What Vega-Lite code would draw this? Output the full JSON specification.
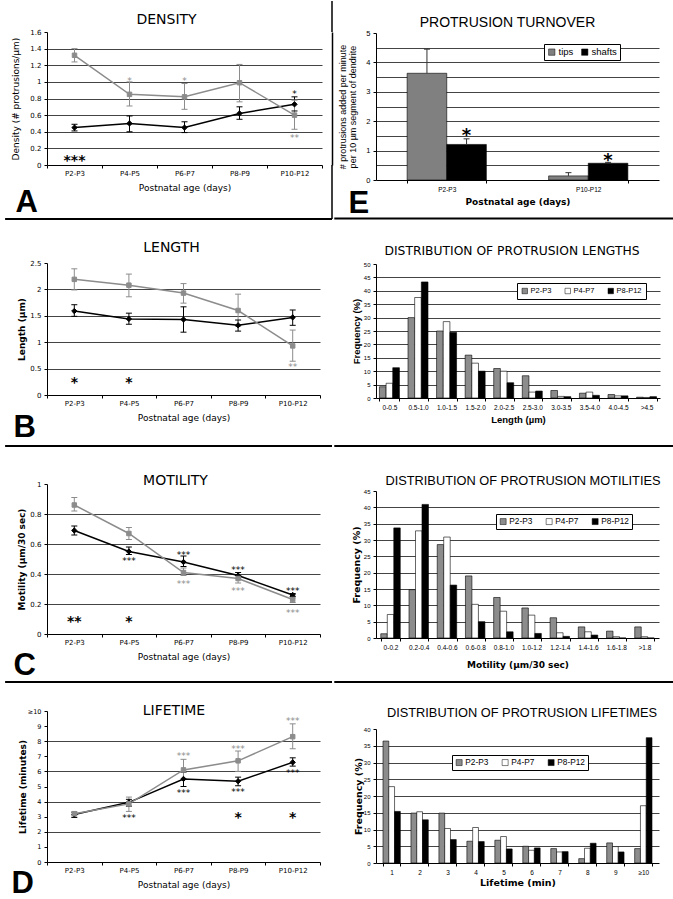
{
  "$schema": "https://vega.github.io/schema/vega-lite/v6.json",
  "padding": {"left": 4, "top": 0, "right": 0, "bottom": 0},
  "spacing": 0,
  "resolve": {"scale": {"x": "independent", "y": "independent", "fill": "independent", "stroke": "independent", "xOffset": "independent"}, "legend": {"fill": "independent", "stroke": "independent"}},
  "config": {
    "view": {"stroke": null},
    "font": "DejaVu Sans",
    "axis": {"domainColor": "#000", "tickColor": "#000", "labelColor": "#000", "titleColor": "#000", "gridColor": "#444", "gridWidth": 1, "tickSize": 3, "domainWidth": 1, "tickWidth": 1, "labelOverlap": false},
    "legend": {"labelColor": "#000"}
  },
  "hconcat": [
    {
      "vconcat": [
        {
          "width": 285, "height": 31,
          "data": {"values": [{"s": 1}]},
          "layer": [
            {"mark": {"type": "rule", "color": "#000", "strokeWidth": 1.5}, "encoding": {"x": {"datum": 1, "type": "quantitative", "scale": {"domain": [0, 1], "nice": false}, "axis": null}}},
            {"mark": {"type": "point", "opacity": 0}, "encoding": {"y": {"datum": 0, "type": "quantitative", "scale": {"domain": [0, 1], "nice": false}, "axis": {"title": "DENSITY", "titleAngle": 0, "titleAlign": "center", "titleBaseline": "alphabetic", "titleX": 119, "titleY": 22, "titleFont": "DejaVu Sans", "titleFontSize": 14, "titleFontWeight": "normal", "labels": false, "ticks": false, "domain": false, "grid": false}}}}
          ]
        },
        {
          "width": 275, "height": 133,
          "resolve": {"axis": {"y": "independent"}},
          "layer": [
            {
              "data": {"values": [
                {"age": "P2-P3", "series": "shafts", "mean": 0.45, "lo": 0.41, "hi": 0.49},
                {"age": "P4-P5", "series": "shafts", "mean": 0.50, "lo": 0.40, "hi": 0.59},
                {"age": "P6-P7", "series": "shafts", "mean": 0.45, "lo": 0.39, "hi": 0.52},
                {"age": "P8-P9", "series": "shafts", "mean": 0.62, "lo": 0.55, "hi": 0.70},
                {"age": "P10-P12", "series": "shafts", "mean": 0.73, "lo": 0.65, "hi": 0.82},
                {"age": "P2-P3", "series": "tips", "mean": 1.32, "lo": 1.24, "hi": 1.40},
                {"age": "P4-P5", "series": "tips", "mean": 0.85, "lo": 0.71, "hi": 1.00},
                {"age": "P6-P7", "series": "tips", "mean": 0.82, "lo": 0.67, "hi": 0.98},
                {"age": "P8-P9", "series": "tips", "mean": 0.99, "lo": 0.76, "hi": 1.21},
                {"age": "P10-P12", "series": "tips", "mean": 0.60, "lo": 0.43, "hi": 0.78}
              ]},
              "encoding": {"x": {"field": "age", "type": "ordinal", "scale": {"type": "band", "domain": ["P2-P3", "P4-P5", "P6-P7", "P8-P9", "P10-P12"], "paddingInner": 0, "paddingOuter": 0}, "axis": {"title": "Postnatal age (days)", "labelAngle": 0, "tickBand": "extent", "labelFontSize": 7, "titleFontSize": 9, "titleFontWeight": "normal", "labelPadding": 1, "titlePadding": 7, "grid": false}}},
              "layer": [
                {"mark": {"type": "rule", "strokeWidth": 1}, "encoding": {"y": {"field": "lo", "type": "quantitative", "scale": {"domain": [0, 1.6], "nice": false}, "axis": {"title": "Density (# protrusions/µm)", "values": [0, 0.2, 0.4, 0.6, 0.8, 1, 1.2, 1.4, 1.6], "tickCount": 30, "labelExpr": "datum.value + ''", "grid": true, "gridOpacity": {"condition": {"test": "datum.value <= 0 || datum.value >= 1.59", "value": 0}, "value": 1}, "labelFontSize": 7, "titleFontSize": 9, "titleFontWeight": "normal", "labelPadding": 3, "titlePadding": 9}}, "y2": {"field": "hi"}, "stroke": {"field": "series", "type": "nominal", "scale": {"domain": ["shafts", "tips"], "range": ["#000000", "#8c8c8c"]}, "legend": null}}},
                {"mark": {"type": "tick", "size": 6, "thickness": 1, "opacity": 1}, "encoding": {"y": {"field": "lo", "type": "quantitative"}, "fill": {"field": "series", "type": "nominal", "scale": {"domain": ["shafts", "tips"], "range": ["#000000", "#8c8c8c"]}, "legend": null}}},
                {"mark": {"type": "tick", "size": 6, "thickness": 1, "opacity": 1}, "encoding": {"y": {"field": "hi", "type": "quantitative"}, "fill": {"field": "series", "type": "nominal", "legend": null}}},
                {"mark": {"type": "line", "strokeWidth": 1.5}, "encoding": {"y": {"field": "mean", "type": "quantitative"}, "stroke": {"field": "series", "type": "nominal", "legend": null}}},
                {"transform": [{"filter": "datum.series === 'shafts'"}], "mark": {"type": "point", "shape": "diamond", "filled": true, "size": 28, "opacity": 1, "strokeWidth": 1}, "encoding": {"y": {"field": "mean", "type": "quantitative"},
                  "fill": {"field": "series", "type": "nominal", "legend": {"orient": "none", "legendX": 225, "legendY": -16, "title": null, "direction": "vertical", "strokeColor": "#000", "fillColor": "#fff", "padding": 3, "labelFont": "DejaVu Sans", "labelFontSize": 8.5, "symbolType": "M-1,0H1M-0.35,-0.35H0.35V0.35H-0.35Z", "symbolSize": 180, "symbolStrokeWidth": 1.5, "rowPadding": 1, "labelOffset": 2}},
                  "stroke": {"field": "series", "type": "nominal", "legend": {"orient": "none", "legendX": 225, "legendY": -16, "title": null, "direction": "vertical", "strokeColor": "#000", "fillColor": "#fff", "padding": 3, "labelFont": "DejaVu Sans", "labelFontSize": 8.5, "symbolType": "M-1,0H1M-0.35,-0.35H0.35V0.35H-0.35Z", "symbolSize": 180, "symbolStrokeWidth": 1.5, "rowPadding": 1, "labelOffset": 2}}}},
                {"transform": [{"filter": "datum.series === 'tips'"}], "mark": {"type": "point", "shape": "square", "filled": true, "size": 20, "opacity": 1, "strokeWidth": 1}, "encoding": {"y": {"field": "mean", "type": "quantitative"},
                  "fill": {"field": "series", "type": "nominal"},
                  "stroke": {"field": "series", "type": "nominal"}}}
              ]
            },
            {
              "data": {"values": [
                {"age": "P2-P3", "y": 0.1, "t": "***", "k": "big"},
                {"age": "P4-P5", "y": 1.04, "t": "*", "k": "tips"},
                {"age": "P6-P7", "y": 1.04, "t": "*", "k": "tips"},
                {"age": "P10-P12", "y": 0.88, "t": "*", "k": "shafts"},
                {"age": "P10-P12", "y": 0.35, "t": "**", "k": "tips"}
              ]},
              "encoding": {"x": {"field": "age", "type": "ordinal"}, "y": {"field": "y", "type": "quantitative", "axis": {"orient": "right", "offset": 10, "labels": false, "ticks": false, "grid": false, "title": null, "domainWidth": 1.5}}, "text": {"field": "t"}},
              "layer": [
                {"transform": [{"filter": "datum.k === 'big'"}], "mark": {"type": "text", "font": "DejaVu Sans", "fontWeight": "bold", "fontSize": 14, "baseline": "alphabetic", "dy": 8, "color": "#000"}},
                {"transform": [{"filter": "datum.k === 'shafts'"}], "mark": {"type": "text", "font": "DejaVu Sans", "fontSize": 9, "baseline": "alphabetic", "dy": 5, "color": "#000"}},
                {"transform": [{"filter": "datum.k === 'tips'"}], "mark": {"type": "text", "font": "DejaVu Sans", "fontSize": 9, "baseline": "alphabetic", "dy": 5, "color": "#8c8c8c"}}
              ]
            }
          ]
        },
        {
          "width": 285, "height": 54,
          "data": {"values": [{"s": 1}]},
          "mark": {"type": "rule", "color": "#000", "strokeWidth": 1.5},
          "encoding": {"x": {"datum": 1, "type": "quantitative", "scale": {"domain": [0, 1], "nice": false}, "axis": {"orient": "top", "title": "A", "titleAngle": 0, "titleAlign": "left", "titleBaseline": "alphabetic", "titleX": -32, "titleY": 46, "titleFont": "Liberation Sans", "titleFontSize": 31, "titleFontWeight": "bold", "labels": false, "ticks": false, "domain": false, "grid": false}}}
        },
        {
          "width": 285, "height": 44,
          "data": {"values": [{"s": 1}]},
          "mark": {"type": "rule", "color": "#000", "strokeWidth": 2},
          "encoding": {
            "y": {"datum": 1, "type": "quantitative", "scale": {"domain": [0, 1], "nice": false}, "axis": {"title": "LENGTH", "titleAngle": 0, "titleAlign": "center", "titleBaseline": "alphabetic", "titleX": 124, "titleY": 32, "titleFont": "DejaVu Sans", "titleFontSize": 14, "titleFontWeight": "normal", "labels": false, "ticks": false, "domain": false, "grid": false}},
            "x": {"datum": -0.147, "type": "quantitative", "scale": {"domain": [0, 1], "nice": false, "zero": false}, "axis": null},
            "x2": {"datum": 1}
          }
        },
        {
          "width": 273, "height": 132,
          "layer": [
            {
              "data": {"values": [
                {"age": "P2-P3", "series": "shafts", "mean": 1.59, "lo": 1.49, "hi": 1.71},
                {"age": "P4-P5", "series": "shafts", "mean": 1.44, "lo": 1.34, "hi": 1.55},
                {"age": "P6-P7", "series": "shafts", "mean": 1.43, "lo": 1.19, "hi": 1.67},
                {"age": "P8-P9", "series": "shafts", "mean": 1.32, "lo": 1.21, "hi": 1.42},
                {"age": "P10-P12", "series": "shafts", "mean": 1.47, "lo": 1.32, "hi": 1.61},
                {"age": "P2-P3", "series": "tips", "mean": 2.19, "lo": 1.99, "hi": 2.39},
                {"age": "P4-P5", "series": "tips", "mean": 2.08, "lo": 1.86, "hi": 2.29},
                {"age": "P6-P7", "series": "tips", "mean": 1.93, "lo": 1.74, "hi": 2.11},
                {"age": "P8-P9", "series": "tips", "mean": 1.60, "lo": 1.30, "hi": 1.91},
                {"age": "P10-P12", "series": "tips", "mean": 0.93, "lo": 0.64, "hi": 1.23}
              ]},
              "encoding": {"x": {"field": "age", "type": "ordinal", "scale": {"type": "band", "domain": ["P2-P3", "P4-P5", "P6-P7", "P8-P9", "P10-P12"], "paddingInner": 0, "paddingOuter": 0}, "axis": {"title": "Postnatal age (days)", "labelAngle": 0, "tickBand": "extent", "labelFontSize": 7, "titleFontSize": 9, "titleFontWeight": "normal", "labelPadding": 1, "titlePadding": 7, "grid": false}}},
              "layer": [
                {"mark": {"type": "rule", "strokeWidth": 1}, "encoding": {"y": {"field": "lo", "type": "quantitative", "scale": {"domain": [0, 2.5], "nice": false}, "axis": {"title": "Length (µm)", "values": [0, 0.5, 1, 1.5, 2, 2.5], "tickCount": 30, "labelExpr": "datum.value + ''", "grid": true, "gridOpacity": {"condition": {"test": "datum.value <= 0 || datum.value >= 2.49", "value": 0}, "value": 1}, "labelFontSize": 7, "titleFontSize": 9, "titleFontWeight": "bold", "labelPadding": 3, "titlePadding": 3}}, "y2": {"field": "hi"}, "stroke": {"field": "series", "type": "nominal", "scale": {"domain": ["shafts", "tips"], "range": ["#000000", "#8c8c8c"]}, "legend": null}}},
                {"mark": {"type": "tick", "size": 6, "thickness": 1, "opacity": 1}, "encoding": {"y": {"field": "lo", "type": "quantitative"}, "fill": {"field": "series", "type": "nominal", "scale": {"domain": ["shafts", "tips"], "range": ["#000000", "#8c8c8c"]}, "legend": null}}},
                {"mark": {"type": "tick", "size": 6, "thickness": 1, "opacity": 1}, "encoding": {"y": {"field": "hi", "type": "quantitative"}, "fill": {"field": "series", "type": "nominal", "legend": null}}},
                {"mark": {"type": "line", "strokeWidth": 1.5}, "encoding": {"y": {"field": "mean", "type": "quantitative"}, "stroke": {"field": "series", "type": "nominal", "legend": null}}},
                {"transform": [{"filter": "datum.series === 'shafts'"}], "mark": {"type": "point", "shape": "diamond", "filled": true, "size": 28, "opacity": 1, "strokeWidth": 1}, "encoding": {"y": {"field": "mean", "type": "quantitative"},
                  "fill": {"field": "series", "type": "nominal", "legend": {"orient": "none", "legendX": 224, "legendY": -10, "title": null, "direction": "vertical", "strokeColor": "#000", "fillColor": "#fff", "padding": 3, "labelFont": "DejaVu Sans", "labelFontSize": 8.5, "symbolType": "M-1,0H1M-0.35,-0.35H0.35V0.35H-0.35Z", "symbolSize": 180, "symbolStrokeWidth": 1.5, "rowPadding": 1, "labelOffset": 2}},
                  "stroke": {"field": "series", "type": "nominal", "legend": {"orient": "none", "legendX": 224, "legendY": -10, "title": null, "direction": "vertical", "strokeColor": "#000", "fillColor": "#fff", "padding": 3, "labelFont": "DejaVu Sans", "labelFontSize": 8.5, "symbolType": "M-1,0H1M-0.35,-0.35H0.35V0.35H-0.35Z", "symbolSize": 180, "symbolStrokeWidth": 1.5, "rowPadding": 1, "labelOffset": 2}}}},
                {"transform": [{"filter": "datum.series === 'tips'"}], "mark": {"type": "point", "shape": "square", "filled": true, "size": 20, "opacity": 1, "strokeWidth": 1}, "encoding": {"y": {"field": "mean", "type": "quantitative"},
                  "fill": {"field": "series", "type": "nominal"},
                  "stroke": {"field": "series", "type": "nominal"}}}
              ]
            },
            {
              "data": {"values": [
                {"age": "P2-P3", "y": 0.3, "t": "*", "k": "big"},
                {"age": "P4-P5", "y": 0.3, "t": "*", "k": "big"},
                {"age": "P10-P12", "y": 0.56, "t": "**", "k": "tips"}
              ]},
              "encoding": {"x": {"field": "age", "type": "ordinal"}, "y": {"field": "y", "type": "quantitative"}, "text": {"field": "t"}},
              "layer": [
                {"transform": [{"filter": "datum.k === 'big'"}], "mark": {"type": "text", "font": "DejaVu Sans", "fontWeight": "bold", "fontSize": 14, "baseline": "alphabetic", "dy": 8, "color": "#000"}},
                {"transform": [{"filter": "datum.k === 'tips'"}], "mark": {"type": "text", "font": "DejaVu Sans", "fontSize": 9, "baseline": "alphabetic", "dy": 5, "color": "#8c8c8c"}}
              ]
            }
          ]
        },
        {
          "width": 285, "height": 89,
          "data": {"values": [{"s": 1}]},
          "mark": {"type": "rule", "color": "#000", "strokeWidth": 2},
          "encoding": {
            "y": {"datum": 0.427, "type": "quantitative", "scale": {"domain": [0, 1], "nice": false}, "axis": {"title": "MOTILITY", "titleAngle": 0, "titleAlign": "center", "titleBaseline": "alphabetic", "titleX": 128, "titleY": 89, "titleFont": "DejaVu Sans", "titleFontSize": 14, "titleFontWeight": "normal", "labels": false, "ticks": false, "domain": false, "grid": false}},
            "x": {"datum": -0.147, "type": "quantitative", "scale": {"domain": [0, 1], "nice": false, "zero": false}, "axis": {"orient": "top", "title": "B", "titleAngle": 0, "titleAlign": "left", "titleBaseline": "alphabetic", "titleX": -34, "titleY": 41, "titleFont": "Liberation Sans", "titleFontSize": 31, "titleFontWeight": "bold", "labels": false, "ticks": false, "domain": false, "grid": false}},
            "x2": {"datum": 1}
          }
        },
        {
          "width": 273, "height": 150,
          "layer": [
            {
              "data": {"values": [
                {"age": "P2-P3", "series": "shafts", "mean": 0.69, "lo": 0.66, "hi": 0.72},
                {"age": "P4-P5", "series": "shafts", "mean": 0.55, "lo": 0.53, "hi": 0.58},
                {"age": "P6-P7", "series": "shafts", "mean": 0.48, "lo": 0.45, "hi": 0.52},
                {"age": "P8-P9", "series": "shafts", "mean": 0.39, "lo": 0.37, "hi": 0.41},
                {"age": "P10-P12", "series": "shafts", "mean": 0.26, "lo": 0.25, "hi": 0.27},
                {"age": "P2-P3", "series": "tips", "mean": 0.86, "lo": 0.82, "hi": 0.91},
                {"age": "P4-P5", "series": "tips", "mean": 0.67, "lo": 0.63, "hi": 0.71},
                {"age": "P6-P7", "series": "tips", "mean": 0.41, "lo": 0.39, "hi": 0.44},
                {"age": "P8-P9", "series": "tips", "mean": 0.37, "lo": 0.34, "hi": 0.39},
                {"age": "P10-P12", "series": "tips", "mean": 0.23, "lo": 0.21, "hi": 0.24}
              ]},
              "encoding": {"x": {"field": "age", "type": "ordinal", "scale": {"type": "band", "domain": ["P2-P3", "P4-P5", "P6-P7", "P8-P9", "P10-P12"], "paddingInner": 0, "paddingOuter": 0}, "axis": {"title": "Postnatal age (days)", "labelAngle": 0, "tickBand": "extent", "labelFontSize": 7, "titleFontSize": 9, "titleFontWeight": "normal", "labelPadding": 1, "titlePadding": 7, "grid": false}}},
              "layer": [
                {"mark": {"type": "rule", "strokeWidth": 1}, "encoding": {"y": {"field": "lo", "type": "quantitative", "scale": {"domain": [0, 1], "nice": false}, "axis": {"title": "Motility (µm/30 sec)", "values": [0, 0.2, 0.4, 0.6, 0.8, 1], "tickCount": 30, "labelExpr": "datum.value + ''", "grid": true, "gridOpacity": {"condition": {"test": "datum.value <= 0 || datum.value >= 0.99", "value": 0}, "value": 1}, "labelFontSize": 7, "titleFontSize": 9, "titleFontWeight": "bold", "labelPadding": 3, "titlePadding": 3}}, "y2": {"field": "hi"}, "stroke": {"field": "series", "type": "nominal", "scale": {"domain": ["shafts", "tips"], "range": ["#000000", "#8c8c8c"]}, "legend": null}}},
                {"mark": {"type": "tick", "size": 6, "thickness": 1, "opacity": 1}, "encoding": {"y": {"field": "lo", "type": "quantitative"}, "fill": {"field": "series", "type": "nominal", "scale": {"domain": ["shafts", "tips"], "range": ["#000000", "#8c8c8c"]}, "legend": null}}},
                {"mark": {"type": "tick", "size": 6, "thickness": 1, "opacity": 1}, "encoding": {"y": {"field": "hi", "type": "quantitative"}, "fill": {"field": "series", "type": "nominal", "legend": null}}},
                {"mark": {"type": "line", "strokeWidth": 1.5}, "encoding": {"y": {"field": "mean", "type": "quantitative"}, "stroke": {"field": "series", "type": "nominal", "legend": null}}},
                {"transform": [{"filter": "datum.series === 'shafts'"}], "mark": {"type": "point", "shape": "diamond", "filled": true, "size": 28, "opacity": 1, "strokeWidth": 1}, "encoding": {"y": {"field": "mean", "type": "quantitative"},
                  "fill": {"field": "series", "type": "nominal", "legend": {"orient": "none", "legendX": 221, "legendY": 0, "title": null, "direction": "vertical", "strokeColor": "#000", "fillColor": "#fff", "padding": 3, "labelFont": "DejaVu Sans", "labelFontSize": 8.5, "symbolType": "M-1,0H1M-0.35,-0.35H0.35V0.35H-0.35Z", "symbolSize": 180, "symbolStrokeWidth": 1.5, "rowPadding": 1, "labelOffset": 2}},
                  "stroke": {"field": "series", "type": "nominal", "legend": {"orient": "none", "legendX": 221, "legendY": 0, "title": null, "direction": "vertical", "strokeColor": "#000", "fillColor": "#fff", "padding": 3, "labelFont": "DejaVu Sans", "labelFontSize": 8.5, "symbolType": "M-1,0H1M-0.35,-0.35H0.35V0.35H-0.35Z", "symbolSize": 180, "symbolStrokeWidth": 1.5, "rowPadding": 1, "labelOffset": 2}}}},
                {"transform": [{"filter": "datum.series === 'tips'"}], "mark": {"type": "point", "shape": "square", "filled": true, "size": 20, "opacity": 1, "strokeWidth": 1}, "encoding": {"y": {"field": "mean", "type": "quantitative"},
                  "fill": {"field": "series", "type": "nominal"},
                  "stroke": {"field": "series", "type": "nominal"}}}
              ]
            },
            {
              "data": {"values": [
                {"age": "P2-P3", "y": 0.11, "t": "**", "k": "big"},
                {"age": "P4-P5", "y": 0.11, "t": "*", "k": "big"},
                {"age": "P4-P5", "y": 0.50, "t": "***", "k": "shafts"},
                {"age": "P6-P7", "y": 0.54, "t": "***", "k": "shafts"},
                {"age": "P6-P7", "y": 0.35, "t": "***", "k": "tips"},
                {"age": "P8-P9", "y": 0.44, "t": "***", "k": "shafts"},
                {"age": "P8-P9", "y": 0.30, "t": "***", "k": "tips"},
                {"age": "P10-P12", "y": 0.30, "t": "***", "k": "shafts"},
                {"age": "P10-P12", "y": 0.155, "t": "***", "k": "tips"}
              ]},
              "encoding": {"x": {"field": "age", "type": "ordinal"}, "y": {"field": "y", "type": "quantitative"}, "text": {"field": "t"}},
              "layer": [
                {"transform": [{"filter": "datum.k === 'big'"}], "mark": {"type": "text", "font": "DejaVu Sans", "fontWeight": "bold", "fontSize": 14, "baseline": "alphabetic", "dy": 8, "color": "#000"}},
                {"transform": [{"filter": "datum.k === 'shafts'"}], "mark": {"type": "text", "font": "DejaVu Sans", "fontSize": 9, "baseline": "alphabetic", "dy": 5, "color": "#000"}},
                {"transform": [{"filter": "datum.k === 'tips'"}], "mark": {"type": "text", "font": "DejaVu Sans", "fontSize": 9, "baseline": "alphabetic", "dy": 5, "color": "#8c8c8c"}}
              ]
            }
          ]
        },
        {
          "width": 285, "height": 77,
          "data": {"values": [{"s": 1}]},
          "mark": {"type": "rule", "color": "#000", "strokeWidth": 2},
          "encoding": {
            "y": {"datum": 0.377, "type": "quantitative", "scale": {"domain": [0, 1], "nice": false}, "axis": {"title": "LIFETIME", "titleAngle": 0, "titleAlign": "center", "titleBaseline": "alphabetic", "titleX": 126.5, "titleY": 80, "titleFont": "DejaVu Sans", "titleFontSize": 14, "titleFontWeight": "normal", "labels": false, "ticks": false, "domain": false, "grid": false}},
            "x": {"datum": -0.147, "type": "quantitative", "scale": {"domain": [0, 1], "nice": false, "zero": false}, "axis": {"orient": "top", "title": "C", "titleAngle": 0, "titleAlign": "left", "titleBaseline": "alphabetic", "titleX": -34, "titleY": 40, "titleFont": "Liberation Sans", "titleFontSize": 31, "titleFontWeight": "bold", "labels": false, "ticks": false, "domain": false, "grid": false}},
            "x2": {"datum": 1}
          }
        },
        {
          "width": 273, "height": 151,
          "layer": [
            {
              "data": {"values": [
                {"age": "P2-P3", "series": "shafts", "mean": 3.15, "lo": 2.95, "hi": 3.3},
                {"age": "P4-P5", "series": "shafts", "mean": 3.95, "lo": 3.7, "hi": 4.15},
                {"age": "P6-P7", "series": "shafts", "mean": 5.5, "lo": 5.0, "hi": 5.95},
                {"age": "P8-P9", "series": "shafts", "mean": 5.35, "lo": 5.05, "hi": 5.62},
                {"age": "P10-P12", "series": "shafts", "mean": 6.6, "lo": 6.35, "hi": 6.9},
                {"age": "P2-P3", "series": "tips", "mean": 3.2, "lo": 3.05, "hi": 3.3},
                {"age": "P4-P5", "series": "tips", "mean": 3.85, "lo": 3.35, "hi": 4.3},
                {"age": "P6-P7", "series": "tips", "mean": 6.1, "lo": 5.5, "hi": 6.8},
                {"age": "P8-P9", "series": "tips", "mean": 6.7, "lo": 6.0, "hi": 7.35},
                {"age": "P10-P12", "series": "tips", "mean": 8.3, "lo": 7.5, "hi": 9.15}
              ]},
              "encoding": {"x": {"field": "age", "type": "ordinal", "scale": {"type": "band", "domain": ["P2-P3", "P4-P5", "P6-P7", "P8-P9", "P10-P12"], "paddingInner": 0, "paddingOuter": 0}, "axis": {"title": "Postnatal age (days)", "labelAngle": 0, "tickBand": "extent", "labelFontSize": 7, "titleFontSize": 9, "titleFontWeight": "normal", "labelPadding": 1, "titlePadding": 7, "grid": false}}},
              "layer": [
                {"mark": {"type": "rule", "strokeWidth": 1}, "encoding": {"y": {"field": "lo", "type": "quantitative", "scale": {"domain": [0, 10], "nice": false}, "axis": {"title": "Lifetime (minutes)", "values": [0, 1, 2, 3, 4, 5, 6, 7, 8, 9, 10], "tickCount": 30, "labelExpr": "datum.value == 10 ? '≥10' : datum.value + ''", "grid": true, "gridOpacity": {"condition": {"test": "datum.value % 2 != 0 || datum.value <= 0 || datum.value >= 10", "value": 0}, "value": 1}, "labelFontSize": 6.5, "titleFontSize": 9, "titleFontWeight": "bold", "labelPadding": 3, "titlePadding": 0}}, "y2": {"field": "hi"}, "stroke": {"field": "series", "type": "nominal", "scale": {"domain": ["shafts", "tips"], "range": ["#000000", "#8c8c8c"]}, "legend": null}}},
                {"mark": {"type": "tick", "size": 6, "thickness": 1, "opacity": 1}, "encoding": {"y": {"field": "lo", "type": "quantitative"}, "fill": {"field": "series", "type": "nominal", "scale": {"domain": ["shafts", "tips"], "range": ["#000000", "#8c8c8c"]}, "legend": null}}},
                {"mark": {"type": "tick", "size": 6, "thickness": 1, "opacity": 1}, "encoding": {"y": {"field": "hi", "type": "quantitative"}, "fill": {"field": "series", "type": "nominal", "legend": null}}},
                {"mark": {"type": "line", "strokeWidth": 1.5}, "encoding": {"y": {"field": "mean", "type": "quantitative"}, "stroke": {"field": "series", "type": "nominal", "legend": null}}},
                {"transform": [{"filter": "datum.series === 'shafts'"}], "mark": {"type": "point", "shape": "diamond", "filled": true, "size": 28, "opacity": 1, "strokeWidth": 1}, "encoding": {"y": {"field": "mean", "type": "quantitative"},
                  "fill": {"field": "series", "type": "nominal", "legend": {"orient": "none", "legendX": 226, "legendY": 113, "title": null, "direction": "vertical", "strokeColor": "#000", "fillColor": "#fff", "padding": 3, "labelFont": "DejaVu Sans", "labelFontSize": 8.5, "symbolType": "M-1,0H1M-0.35,-0.35H0.35V0.35H-0.35Z", "symbolSize": 180, "symbolStrokeWidth": 1.5, "rowPadding": 1, "labelOffset": 2}},
                  "stroke": {"field": "series", "type": "nominal", "legend": {"orient": "none", "legendX": 226, "legendY": 113, "title": null, "direction": "vertical", "strokeColor": "#000", "fillColor": "#fff", "padding": 3, "labelFont": "DejaVu Sans", "labelFontSize": 8.5, "symbolType": "M-1,0H1M-0.35,-0.35H0.35V0.35H-0.35Z", "symbolSize": 180, "symbolStrokeWidth": 1.5, "rowPadding": 1, "labelOffset": 2}}}},
                {"transform": [{"filter": "datum.series === 'tips'"}], "mark": {"type": "point", "shape": "square", "filled": true, "size": 20, "opacity": 1, "strokeWidth": 1}, "encoding": {"y": {"field": "mean", "type": "quantitative"},
                  "fill": {"field": "series", "type": "nominal"},
                  "stroke": {"field": "series", "type": "nominal"}}}
              ]
            },
            {
              "data": {"values": [
                {"age": "P4-P5", "y": 3.05, "t": "***", "k": "shafts"},
                {"age": "P6-P7", "y": 7.15, "t": "***", "k": "tips"},
                {"age": "P6-P7", "y": 4.7, "t": "***", "k": "shafts"},
                {"age": "P8-P9", "y": 7.6, "t": "***", "k": "tips"},
                {"age": "P8-P9", "y": 4.75, "t": "***", "k": "shafts"},
                {"age": "P10-P12", "y": 9.45, "t": "***", "k": "tips"},
                {"age": "P10-P12", "y": 6.05, "t": "***", "k": "shafts"},
                {"age": "P8-P9", "y": 3.2, "t": "*", "k": "big"},
                {"age": "P10-P12", "y": 3.2, "t": "*", "k": "big"}
              ]},
              "encoding": {"x": {"field": "age", "type": "ordinal"}, "y": {"field": "y", "type": "quantitative"}, "text": {"field": "t"}},
              "layer": [
                {"transform": [{"filter": "datum.k === 'big'"}], "mark": {"type": "text", "font": "DejaVu Sans", "fontWeight": "bold", "fontSize": 14, "baseline": "alphabetic", "dy": 8, "color": "#000"}},
                {"transform": [{"filter": "datum.k === 'shafts'"}], "mark": {"type": "text", "font": "DejaVu Sans", "fontSize": 9, "baseline": "alphabetic", "dy": 5, "color": "#000"}},
                {"transform": [{"filter": "datum.k === 'tips'"}], "mark": {"type": "text", "font": "DejaVu Sans", "fontSize": 9, "baseline": "alphabetic", "dy": 5, "color": "#8c8c8c"}}
              ]
            }
          ]
        },
        {
          "width": 285, "height": 38,
          "data": {"values": []},
          "mark": {"type": "rule", "color": "#000", "strokeWidth": 2},
          "encoding": {"x": {"datum": 0, "type": "quantitative", "scale": {"domain": [0, 1], "nice": false}, "axis": {"orient": "top", "title": "D", "titleAngle": 0, "titleAlign": "left", "titleBaseline": "alphabetic", "titleX": -36, "titleY": 30, "titleFont": "Liberation Sans", "titleFontSize": 31, "titleFontWeight": "bold", "labels": false, "ticks": false, "domain": false, "grid": false}}}
        }
      ],
      "spacing": 0,
      "bounds": "flush",
      "resolve": {"scale": {"x": "independent", "y": "independent", "fill": "independent", "stroke": "independent"}, "legend": {"fill": "independent", "stroke": "independent"}}
    },
    {
      "vconcat": [
        {
          "width": 298, "height": 32,
          "data": {"values": [{"s": 1}]},
          "mark": {"type": "point", "opacity": 0},
          "encoding": {"y": {"datum": 0, "type": "quantitative", "scale": {"domain": [0, 1], "nice": false}, "axis": {"title": "PROTRUSION TURNOVER", "titleAngle": 0, "titleAlign": "center", "titleBaseline": "alphabetic", "titleX": 131, "titleY": 25, "titleFont": "Liberation Sans", "titleFontSize": 14, "titleFontWeight": "normal", "labels": false, "ticks": false, "domain": false, "grid": false}}}
        },
        {
          "width": 283, "height": 147,
          "layer": [
            {
              "data": {"values": [
                {"age": "P2-P3", "series": "tips", "v": 3.63, "hi": 4.45},
                {"age": "P2-P3", "series": "shafts", "v": 1.21, "hi": 1.40},
                {"age": "P10-P12", "series": "tips", "v": 0.14, "hi": 0.25},
                {"age": "P10-P12", "series": "shafts", "v": 0.57, "hi": 0.60}
              ]},
              "encoding": {
                "x": {"field": "age", "type": "nominal", "scale": {"domain": ["P2-P3", "P10-P12"], "paddingInner": 0.44, "paddingOuter": 0.22}, "axis": {"title": "Postnatal age (days)", "labelAngle": 0, "tickBand": "extent", "labelFont": "Liberation Sans", "labelFontSize": 6.5, "titleFont": "DejaVu Sans", "titleFontSize": 9, "titleFontWeight": "bold", "labelPadding": 3, "titlePadding": 5, "grid": false}},
                "xOffset": {"field": "series", "type": "nominal", "scale": {"domain": ["tips", "shafts"], "paddingInner": 0, "paddingOuter": 0}}
              },
              "layer": [
                {"mark": {"type": "bar", "stroke": "#000", "strokeWidth": 0.6}, "encoding": {"y": {"field": "v", "type": "quantitative", "scale": {"domain": [0, 5], "nice": false}, "axis": {"title": ["# protrusions added per minute", "per 10 µm segment of dendrite"], "titleFont": "Liberation Sans", "titleFontSize": 9, "titleFontWeight": "normal", "titleLineHeight": 10, "values": [0, 0.5, 1, 1.5, 2, 2.5, 3, 3.5, 4, 4.5, 5], "tickCount": 30, "labelExpr": "datum.value % 1 == 0 ? datum.value + '' : ''", "labelFont": "Liberation Sans", "labelFontSize": 7.5, "tickOpacity": {"condition": {"test": "datum.value % 1 != 0", "value": 0}, "value": 1}, "grid": true, "gridOpacity": {"condition": {"test": "datum.value <= 0 || datum.value >= 5", "value": 0}, "value": 1}, "labelPadding": 3, "titlePadding": 8}},
                  "fill": {"field": "series", "type": "nominal", "scale": {"domain": ["tips", "shafts"], "range": ["#808080", "#000000"]}, "legend": {"orient": "none", "legendX": 168, "legendY": 11, "direction": "horizontal", "title": null, "strokeColor": "#000", "fillColor": "#fff", "padding": 3, "symbolType": "square", "symbolSize": 40, "symbolStrokeColor": "#000", "symbolStrokeWidth": 0.5, "labelFont": "Liberation Sans", "labelFontSize": 9.5, "columnPadding": 6, "labelOffset": 2}}}},
                {"mark": {"type": "rule", "strokeWidth": 1, "color": "#333"}, "encoding": {"y": {"field": "v", "type": "quantitative"}, "y2": {"field": "hi"}}},
                {"mark": {"type": "tick", "size": 6, "thickness": 1, "color": "#333", "opacity": 1}, "encoding": {"y": {"field": "hi", "type": "quantitative"}}}
              ]
            },
            {
              "data": {"values": [
                {"age": "P2-P3", "series": "shafts", "y": 1.68, "t": "*"},
                {"age": "P10-P12", "series": "shafts", "y": 0.8, "t": "*"}
              ]},
              "mark": {"type": "text", "font": "DejaVu Sans", "fontWeight": "bold", "fontSize": 18, "baseline": "alphabetic", "dy": 10, "color": "#000"},
              "encoding": {"x": {"field": "age", "type": "nominal"}, "xOffset": {"field": "series", "type": "nominal"}, "y": {"field": "y", "type": "quantitative"}, "text": {"field": "t"}}
            }
          ]
        },
        {
          "width": 298, "height": 84,
          "data": {"values": [{"s": 1}]},
          "mark": {"type": "rule", "color": "#000", "strokeWidth": 2},
          "encoding": {
            "y": {"datum": 0.542, "type": "quantitative", "scale": {"domain": [0, 1], "nice": false}, "axis": {"title": "DISTRIBUTION OF PROTRUSION LENGTHS", "titleAngle": 0, "titleAlign": "center", "titleBaseline": "alphabetic", "titleX": 135.5, "titleY": 74, "titleFont": "DejaVu Sans", "titleFontSize": 12.3, "titleFontWeight": "normal", "labels": false, "ticks": false, "domain": false, "grid": false}},
            "x": {"datum": -0.14, "type": "quantitative", "scale": {"domain": [0, 1], "nice": false, "zero": false}, "axis": {"orient": "top", "title": "E", "titleAngle": 0, "titleAlign": "left", "titleBaseline": "alphabetic", "titleX": -28, "titleY": 32, "titleFont": "Liberation Sans", "titleFontSize": 31, "titleFontWeight": "bold", "labels": false, "ticks": false, "domain": false, "grid": false}},
            "x2": {"datum": 1}
          }
        },
        {
          "width": 284, "height": 134,
          "data": {"values": [
            {"bin": "0-0.5", "group": "P2-P3", "v": 4.2}, {"bin": "0.5-1.0", "group": "P2-P3", "v": 30}, {"bin": "1.0-1.5", "group": "P2-P3", "v": 25}, {"bin": "1.5-2.0", "group": "P2-P3", "v": 16}, {"bin": "2.0-2.5", "group": "P2-P3", "v": 11}, {"bin": "2.5-3.0", "group": "P2-P3", "v": 8.3}, {"bin": "3.0-3.5", "group": "P2-P3", "v": 2.8}, {"bin": "3.5-4.0", "group": "P2-P3", "v": 1.8}, {"bin": "4.0-4.5", "group": "P2-P3", "v": 1.3}, {"bin": ">4.5", "group": "P2-P3", "v": 0.3},
            {"bin": "0-0.5", "group": "P4-P7", "v": 5.5}, {"bin": "0.5-1.0", "group": "P4-P7", "v": 37.5}, {"bin": "1.0-1.5", "group": "P4-P7", "v": 28.5}, {"bin": "1.5-2.0", "group": "P4-P7", "v": 13}, {"bin": "2.0-2.5", "group": "P4-P7", "v": 10}, {"bin": "2.5-3.0", "group": "P4-P7", "v": 2.2}, {"bin": "3.0-3.5", "group": "P4-P7", "v": 0.6}, {"bin": "3.5-4.0", "group": "P4-P7", "v": 2.2}, {"bin": "4.0-4.5", "group": "P4-P7", "v": 0.8}, {"bin": ">4.5", "group": "P4-P7", "v": 0.2},
            {"bin": "0-0.5", "group": "P8-P12", "v": 11.3}, {"bin": "0.5-1.0", "group": "P8-P12", "v": 43.3}, {"bin": "1.0-1.5", "group": "P8-P12", "v": 24.5}, {"bin": "1.5-2.0", "group": "P8-P12", "v": 10}, {"bin": "2.0-2.5", "group": "P8-P12", "v": 5.7}, {"bin": "2.5-3.0", "group": "P8-P12", "v": 2.6}, {"bin": "3.0-3.5", "group": "P8-P12", "v": 0.5}, {"bin": "3.5-4.0", "group": "P8-P12", "v": 1.0}, {"bin": "4.0-4.5", "group": "P8-P12", "v": 0.8}, {"bin": ">4.5", "group": "P8-P12", "v": 0.5}
          ]},
          "mark": {"type": "bar", "stroke": "#000", "strokeWidth": 0.6},
          "encoding": {
            "x": {"field": "bin", "type": "nominal", "scale": {"domain": ["0-0.5", "0.5-1.0", "1.0-1.5", "1.5-2.0", "2.0-2.5", "2.5-3.0", "3.0-3.5", "3.5-4.0", "4.0-4.5", ">4.5"], "paddingInner": 0.3, "paddingOuter": 0.12}, "axis": {"title": "Length (µm)", "labelAngle": 0, "tickBand": "extent", "labelFont": "Liberation Sans", "labelFontSize": 6.5, "titleFont": "Liberation Sans", "titleFontSize": 9.5, "titleFontWeight": "bold", "labelPadding": 3, "titlePadding": 4, "grid": false}},
            "xOffset": {"field": "group", "type": "nominal", "scale": {"domain": ["P2-P3", "P4-P7", "P8-P12"], "paddingInner": 0, "paddingOuter": 0}},
            "y": {"field": "v", "type": "quantitative", "scale": {"domain": [0, 50], "nice": false}, "axis": {"title": "Frequency (%)", "titleFont": "Liberation Sans", "titleFontSize": 9.5, "titleFontWeight": "bold", "values": [0, 5, 10, 15, 20, 25, 30, 35, 40, 45, 50], "tickCount": 30, "labelFont": "Liberation Sans", "labelFontSize": 6, "grid": true, "gridOpacity": {"condition": {"test": "datum.value <= 0 || datum.value >= 50", "value": 0}, "value": 1}, "labelPadding": 3, "titlePadding": 2}},
            "fill": {"field": "group", "type": "nominal", "scale": {"domain": ["P2-P3", "P4-P7", "P8-P12"], "range": ["#8c8c8c", "#ffffff", "#000000"]}, "legend": {"orient": "none", "legendX": 141, "legendY": 19, "direction": "horizontal", "title": null, "strokeColor": "#000", "fillColor": "#fff", "padding": 4, "symbolType": "square", "symbolSize": 30, "symbolStrokeColor": "#000", "symbolStrokeWidth": 0.5, "labelFont": "Liberation Sans", "labelFontSize": 7.5, "columnPadding": 12, "labelOffset": 2}}
          }
        },
        {
          "width": 298, "height": 93,
          "data": {"values": [{"s": 1}]},
          "mark": {"type": "rule", "color": "#000", "strokeWidth": 2},
          "encoding": {
            "y": {"datum": 0.484, "type": "quantitative", "scale": {"domain": [0, 1], "nice": false}, "axis": {"title": "DISTRIBUTION OF PROTRUSION MOTILITIES", "titleAngle": 0, "titleAlign": "center", "titleBaseline": "alphabetic", "titleX": 146.5, "titleY": 86, "titleFont": "Liberation Sans", "titleFontSize": 12.8, "titleFontWeight": "normal", "labels": false, "ticks": false, "domain": false, "grid": false}},
            "x": {"datum": -0.14, "type": "quantitative", "scale": {"domain": [0, 1], "nice": false, "zero": false}, "axis": null},
            "x2": {"datum": 1}
          }
        },
        {
          "width": 283, "height": 147,
          "data": {"values": [
            {"bin": "0-0.2", "group": "P2-P3", "v": 1.3}, {"bin": "0.2-0.4", "group": "P2-P3", "v": 14.8}, {"bin": "0.4-0.6", "group": "P2-P3", "v": 28.6}, {"bin": "0.6-0.8", "group": "P2-P3", "v": 19}, {"bin": "0.8-1.0", "group": "P2-P3", "v": 12.4}, {"bin": "1.0-1.2", "group": "P2-P3", "v": 9.2}, {"bin": "1.2-1.4", "group": "P2-P3", "v": 6.2}, {"bin": "1.4-1.6", "group": "P2-P3", "v": 3.4}, {"bin": "1.6-1.8", "group": "P2-P3", "v": 2.1}, {"bin": ">1.8", "group": "P2-P3", "v": 3.4},
            {"bin": "0-0.2", "group": "P4-P7", "v": 7.2}, {"bin": "0.2-0.4", "group": "P4-P7", "v": 32.8}, {"bin": "0.4-0.6", "group": "P4-P7", "v": 30.9}, {"bin": "0.6-0.8", "group": "P4-P7", "v": 10.3}, {"bin": "0.8-1.0", "group": "P4-P7", "v": 8.2}, {"bin": "1.0-1.2", "group": "P4-P7", "v": 7.0}, {"bin": "1.2-1.4", "group": "P4-P7", "v": 1.6}, {"bin": "1.4-1.6", "group": "P4-P7", "v": 1.9}, {"bin": "1.6-1.8", "group": "P4-P7", "v": 0.4}, {"bin": ">1.8", "group": "P4-P7", "v": 0.4},
            {"bin": "0-0.2", "group": "P8-P12", "v": 33.7}, {"bin": "0.2-0.4", "group": "P8-P12", "v": 40.9}, {"bin": "0.4-0.6", "group": "P8-P12", "v": 16.2}, {"bin": "0.6-0.8", "group": "P8-P12", "v": 5.0}, {"bin": "0.8-1.0", "group": "P8-P12", "v": 1.9}, {"bin": "1.0-1.2", "group": "P8-P12", "v": 1.4}, {"bin": "1.2-1.4", "group": "P8-P12", "v": 0.5}, {"bin": "1.4-1.6", "group": "P8-P12", "v": 0.9}, {"bin": "1.6-1.8", "group": "P8-P12", "v": 0}, {"bin": ">1.8", "group": "P8-P12", "v": 0}
          ]},
          "mark": {"type": "bar", "stroke": "#000", "strokeWidth": 0.6},
          "encoding": {
            "x": {"field": "bin", "type": "nominal", "scale": {"domain": ["0-0.2", "0.2-0.4", "0.4-0.6", "0.6-0.8", "0.8-1.0", "1.0-1.2", "1.2-1.4", "1.4-1.6", "1.6-1.8", ">1.8"], "paddingInner": 0.31, "paddingOuter": 0.17}, "axis": {"title": "Motility (µm/30 sec)", "labelAngle": 0, "tickBand": "extent", "labelFont": "Liberation Sans", "labelFontSize": 6.5, "titleFont": "DejaVu Sans", "titleFontSize": 9, "titleFontWeight": "bold", "labelPadding": 3, "titlePadding": 10, "grid": false}},
            "xOffset": {"field": "group", "type": "nominal", "scale": {"domain": ["P2-P3", "P4-P7", "P8-P12"], "paddingInner": 0, "paddingOuter": 0}},
            "y": {"field": "v", "type": "quantitative", "scale": {"domain": [0, 45], "nice": false}, "axis": {"title": "Frequency (%)", "titleFont": "DejaVu Sans", "titleFontSize": 9.5, "titleFontWeight": "bold", "values": [0, 5, 10, 15, 20, 25, 30, 35, 40, 45], "tickCount": 30, "labelFont": "Liberation Sans", "labelFontSize": 6, "grid": true, "gridOpacity": {"condition": {"test": "datum.value <= 0 || datum.value >= 45", "value": 0}, "value": 1}, "labelPadding": 3, "titlePadding": 2}},
            "fill": {"field": "group", "type": "nominal", "scale": {"domain": ["P2-P3", "P4-P7", "P8-P12"], "range": ["#8c8c8c", "#ffffff", "#000000"]}, "legend": {"orient": "none", "legendX": 120, "legendY": 23, "direction": "horizontal", "title": null, "strokeColor": "#000", "fillColor": "#fff", "padding": 3, "symbolType": "square", "symbolSize": 36, "symbolStrokeColor": "#000", "symbolStrokeWidth": 0.5, "labelFont": "Liberation Sans", "labelFontSize": 8.3, "columnPadding": 12, "labelOffset": 2}}
          }
        },
        {
          "width": 298, "height": 91,
          "data": {"values": [{"s": 1}]},
          "mark": {"type": "rule", "color": "#000", "strokeWidth": 2},
          "encoding": {
            "y": {"datum": 0.516, "type": "quantitative", "scale": {"domain": [0, 1], "nice": false}, "axis": {"title": "DISTRIBUTION OF PROTRUSION LIFETIMES", "titleAngle": 0, "titleAlign": "center", "titleBaseline": "alphabetic", "titleX": 145.5, "titleY": 78, "titleFont": "Liberation Sans", "titleFontSize": 12.8, "titleFontWeight": "normal", "labels": false, "ticks": false, "domain": false, "grid": false}},
            "x": {"datum": -0.14, "type": "quantitative", "scale": {"domain": [0, 1], "nice": false, "zero": false}, "axis": null},
            "x2": {"datum": 1}
          }
        },
        {
          "width": 283, "height": 134,
          "data": {"values": [
            {"bin": "1", "group": "P2-P3", "v": 36.4}, {"bin": "2", "group": "P2-P3", "v": 14.9}, {"bin": "3", "group": "P2-P3", "v": 14.9}, {"bin": "4", "group": "P2-P3", "v": 6.5}, {"bin": "5", "group": "P2-P3", "v": 6.8}, {"bin": "6", "group": "P2-P3", "v": 5.0}, {"bin": "7", "group": "P2-P3", "v": 4.3}, {"bin": "8", "group": "P2-P3", "v": 1.3}, {"bin": "9", "group": "P2-P3", "v": 6.0}, {"bin": "≥10", "group": "P2-P3", "v": 4.3},
            {"bin": "1", "group": "P4-P7", "v": 22.8}, {"bin": "2", "group": "P4-P7", "v": 15.3}, {"bin": "3", "group": "P4-P7", "v": 10.3}, {"bin": "4", "group": "P4-P7", "v": 10.6}, {"bin": "5", "group": "P4-P7", "v": 7.9}, {"bin": "6", "group": "P4-P7", "v": 3.8}, {"bin": "7", "group": "P4-P7", "v": 3.3}, {"bin": "8", "group": "P4-P7", "v": 4.4}, {"bin": "9", "group": "P4-P7", "v": 4.9}, {"bin": "≥10", "group": "P4-P7", "v": 17.1},
            {"bin": "1", "group": "P8-P12", "v": 15.4}, {"bin": "2", "group": "P8-P12", "v": 12.9}, {"bin": "3", "group": "P8-P12", "v": 7.0}, {"bin": "4", "group": "P8-P12", "v": 6.4}, {"bin": "5", "group": "P8-P12", "v": 4.2}, {"bin": "6", "group": "P8-P12", "v": 4.5}, {"bin": "7", "group": "P8-P12", "v": 3.4}, {"bin": "8", "group": "P8-P12", "v": 5.9}, {"bin": "9", "group": "P8-P12", "v": 3.3}, {"bin": "≥10", "group": "P8-P12", "v": 37.4}
          ]},
          "mark": {"type": "bar", "stroke": "#000", "strokeWidth": 0.6},
          "encoding": {
            "x": {"field": "bin", "type": "nominal", "scale": {"domain": ["1", "2", "3", "4", "5", "6", "7", "8", "9", "≥10"], "paddingInner": 0.38, "paddingOuter": 0.25}, "axis": {"title": "Lifetime (min)", "labelAngle": 0, "tickBand": "extent", "labelFont": "Liberation Sans", "labelFontSize": 6.5, "titleFont": "DejaVu Sans", "titleFontSize": 9.5, "titleFontWeight": "bold", "labelPadding": 3, "titlePadding": 2, "grid": false}},
            "xOffset": {"field": "group", "type": "nominal", "scale": {"domain": ["P2-P3", "P4-P7", "P8-P12"], "paddingInner": 0, "paddingOuter": 0}},
            "y": {"field": "v", "type": "quantitative", "scale": {"domain": [0, 40], "nice": false}, "axis": {"title": "Frequency (%)", "titleFont": "DejaVu Sans", "titleFontSize": 9.5, "titleFontWeight": "bold", "values": [0, 5, 10, 15, 20, 25, 30, 35, 40], "tickCount": 30, "labelFont": "Liberation Sans", "labelFontSize": 6, "grid": true, "gridOpacity": {"condition": {"test": "datum.value <= 0 || datum.value >= 40", "value": 0}, "value": 1}, "labelPadding": 3, "titlePadding": 0}},
            "fill": {"field": "group", "type": "nominal", "scale": {"domain": ["P2-P3", "P4-P7", "P8-P12"], "range": ["#8c8c8c", "#ffffff", "#000000"]}, "legend": {"orient": "none", "legendX": 76, "legendY": 26, "direction": "horizontal", "title": null, "strokeColor": "#000", "fillColor": "#fff", "padding": 3, "symbolType": "square", "symbolSize": 36, "symbolStrokeColor": "#000", "symbolStrokeWidth": 0.5, "labelFont": "Liberation Sans", "labelFontSize": 8.3, "columnPadding": 12, "labelOffset": 2}}
          }
        }
      ],
      "spacing": 0,
      "bounds": "flush",
      "resolve": {"scale": {"x": "independent", "y": "independent", "fill": "independent", "stroke": "independent", "xOffset": "independent"}, "legend": {"fill": "independent", "stroke": "independent"}}
    }
  ]
}
